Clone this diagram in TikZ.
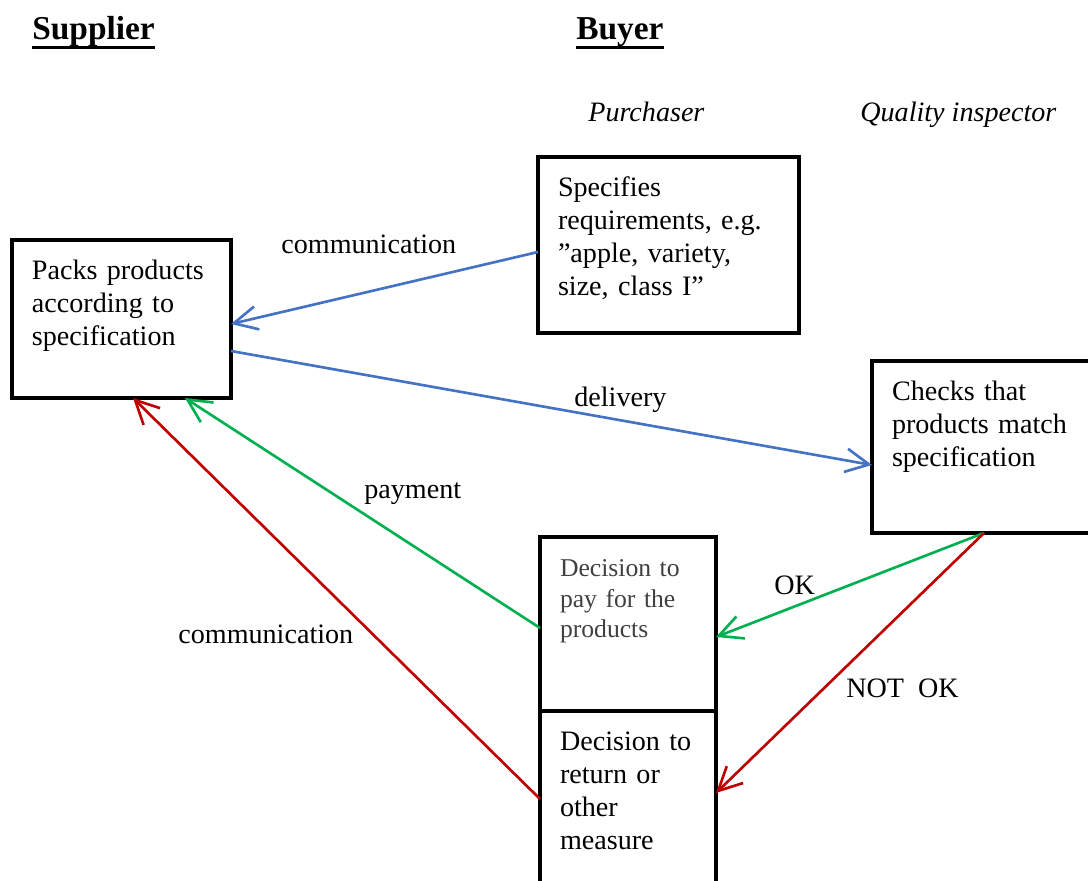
\documentclass[tikz,border=0pt]{standalone}
\usepackage{fontspec}
\setmainfont{Liberation Serif}
\usepackage{tikz}
\usetikzlibrary{calc}
\usetikzlibrary{arrows.meta}
\definecolor{flowblue}{RGB}{68,114,196}
\definecolor{flowgreen}{RGB}{0,176,80}
\definecolor{flowred}{RGB}{192,0,0}
\definecolor{darktext}{RGB}{64,64,64}
\newcommand{\ulbold}[1]{{\setbox0=\hbox{\bfseries #1}\rlap{\vrule height -3.2pt depth 4.9pt width \wd0}\box0}}
\newcommand{\heading}[3]{\node[anchor=base west, inner sep=0pt, font=\fontsize{19}{22}\selectfont] (#1) at ( #2 ) {\ulbold{#3}};}
\newcommand{\rolenode}[3]{\node[anchor=base west, inner sep=0pt, font=\fontsize{16}{19}\selectfont\itshape] (#1) at ( #2 ) {#3};}
\newcommand{\flowlabel}[3]{\node[anchor=base west, inner sep=0pt, font=\fontsize{16}{19}\selectfont] (#1) at ( #2 ) {#3};}
\tikzset{
  cell/.style={draw, line width=2.3pt, anchor=north west, outer sep=0pt,
    inner xsep=0.4cm, inner ysep=0pt, text height=0.8cm, align=left,
    font=\fontsize{16}{18.7}\selectfont},
  smallcell/.style={cell, text=darktext, font=\fontsize{14.6}{17.3}\selectfont},
  flow/.style={line width=1.5pt, -{Straight Barb[length=4.7mm, width=4.7mm]}}
}

\begin{document}
\begin{tikzpicture}[x=0.02cm, y=-0.02cm]
    \useasboundingbox (0,0) rectangle (1088,881);

    \heading{supplier}{32,40}{Supplier}
    \heading{buyer}{576,40}{Buyer}
    \rolenode{purchaser}{588,122}{Purchaser}
    \rolenode{inspector}{860,122}{Quality inspector}

    \node[cell, text width=3.58cm, text depth=2.36cm] (packs) at (12,240)
        {Packs products\\according to\\specification};
    \node[cell, text width=4.42cm, text depth=2.72cm] (spec) at (538,157)
        {Specifies\\requirements, e.g.\\''apple, variety,\\size, class I''};
    \node[cell, text width=4.2cm, text depth=2.64cm] (checks) at (872,361)
        {Checks that\\products match\\specification};
    \node[smallcell, text width=2.72cm, text depth=2.68cm] (pay) at (540,537)
        {Decision to\\pay for the\\products};
    \node[cell, text width=2.72cm, text depth=3.8cm] (ret) at (540,711)
        {Decision to\\return or\\other\\measure};

    \draw[flow, flowblue] ($(spec.north west)+(0,95)$) -- ($(packs.north east)+(0,84)$);
    \draw[flow, flowblue] ($(packs.north east)+(0,111)$) -- ($(checks.north west)+(0,104)$);
    \draw[flow, flowgreen] ($(pay.north west)+(0,91)$) -- ($(packs.south east)+(-46,0)$);
    \draw[flow, flowred] ($(ret.north west)+(0,88)$) -- ($(packs.south west)+(121,0)$);
    \draw[flow, flowgreen] ($(checks.south west)+(112,0)$) -- ($(pay.north east)+(0,100)$);
    \draw[flow, flowred] ($(checks.south west)+(112,0)$) -- ($(ret.north east)+(0,82)$);

    \flowlabel{commtop}{281,254}{communication}
    \flowlabel{delivery}{574,407}{delivery}
    \flowlabel{payment}{364,499}{payment}
    \flowlabel{commlow}{178,643}{communication}
    \flowlabel{ok}{774,594}{OK}
    \flowlabel{notok}{846,697}{NOT~~OK}
\end{tikzpicture}
\end{document}
